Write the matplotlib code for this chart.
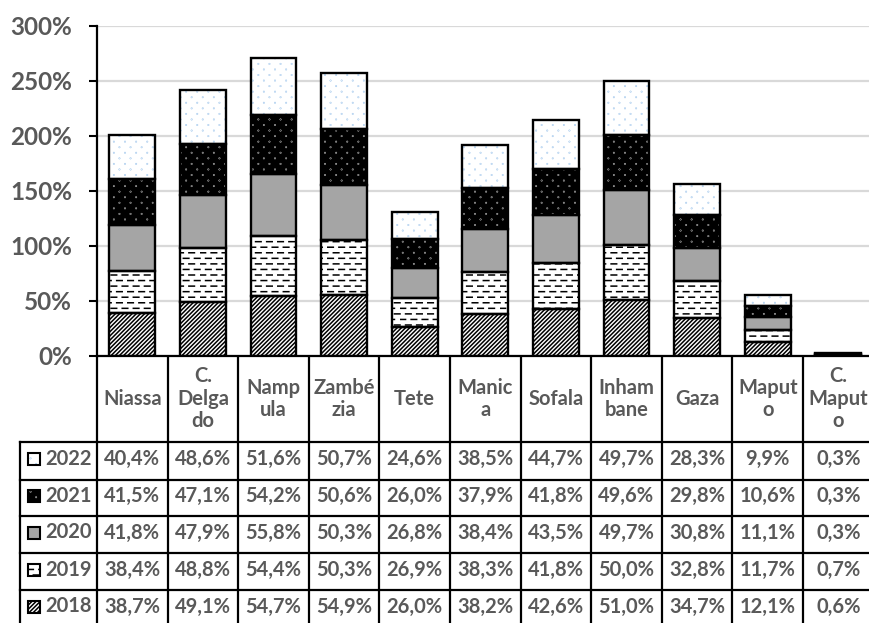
import numpy as np
import matplotlib
matplotlib.use("Agg")
import matplotlib.pyplot as plt
import matplotlib.hatch as mhatch
from matplotlib.path import Path
from matplotlib.patches import Rectangle

# ---- data -------------------------------------------------------------
provinces = ["Niassa", "C.\nDelga\ndo", "Namp\nula", "Zambé\nzia", "Tete",
             "Manic\na", "Sofala", "Inham\nbane", "Gaza", "Maput\no",
             "C.\nMaput\no"]
years = ["2018", "2019", "2020", "2021", "2022"]
v2018 = [38.7, 49.1, 54.7, 54.9, 26.0, 38.2, 42.6, 51.0, 34.7, 12.1, 0.6]
v2019 = [38.4, 48.8, 54.4, 50.3, 26.9, 38.3, 41.8, 50.0, 32.8, 11.7, 0.7]
v2020 = [41.8, 47.9, 55.8, 50.3, 26.8, 38.4, 43.5, 49.7, 30.8, 11.1, 0.3]
v2021 = [41.5, 47.1, 54.2, 50.6, 26.0, 37.9, 41.8, 49.6, 29.8, 10.6, 0.3]
v2022 = [40.4, 48.6, 51.6, 50.7, 24.6, 38.5, 44.7, 49.7, 28.3, 9.9, 0.3]
series = dict(zip(years, [v2018, v2019, v2020, v2021, v2022]))
yticks = [0, 50, 100, 150, 200, 250, 300]


# ---- custom hatches ---------------------------------------------------
class DashedRows(mhatch.HatchPatternBase):
    """'-' : staggered rows of short horizontal dashes."""
    dashes_per_row = 9
    dash_frac = 0.5

    def __init__(self, hatch, density):
        self.num_rows = (hatch.count('-') + hatch.count('+')) * density
        self.num_vertices = self.num_rows * (self.dashes_per_row + 1) * 2

    def set_vertices_and_codes(self, vertices, codes):
        n = self.dashes_per_row
        period = 1.0 / n
        i = 0
        for r in range(self.num_rows):
            y = (r + 0.5) / self.num_rows
            off = 0.5 * period if r % 2 else 0.0
            for k in range(-1, n):
                x0 = k * period + off
                vertices[i] = (x0, y)
                vertices[i + 1] = (x0 + self.dash_frac * period, y)
                codes[i] = Path.MOVETO
                codes[i + 1] = Path.LINETO
                i += 2


class DotGrid(mhatch.HatchPatternBase):
    """'o' : small dots on a staggered grid, wider than tall."""
    radius = 0.0018

    def __init__(self, hatch, density):
        self.num_rows = hatch.count('o') * density
        self.num_cols = self.num_rows // 2
        circ = Path.unit_circle()
        self.shape_vertices = circ.vertices
        self.shape_codes = circ.codes
        self.num_vertices = (self.num_rows * self.num_cols
                             * len(self.shape_vertices))

    def set_vertices_and_codes(self, vertices, codes):
        nv = len(self.shape_vertices)
        i = 0
        for r in range(self.num_rows):
            y = (r + 0.5) / self.num_rows
            off = 0.5 if r % 2 else 0.0
            for c in range(self.num_cols):
                xc = (c + 0.25 + off) / self.num_cols
                vertices[i:i + nv] = self.shape_vertices * self.radius + (xc, y)
                codes[i:i + nv] = self.shape_codes
                i += nv


swap = {mhatch.HorizontalHatch: DashedRows, mhatch.SmallCircles: DotGrid}
mhatch._hatch_types = [swap.get(t, t) for t in mhatch._hatch_types]

plt.rcParams['font.family'] = ['Lato', 'DejaVu Sans']
plt.rcParams['hatch.linewidth'] = 1.1

GREY_TXT = "#595959"
styles = {
    "2018": dict(face="white", hatch="////////", hcolor="black"),
    "2019": dict(face="white", hatch="---", hcolor="black"),
    "2020": dict(face="#a5a5a5", hatch=None, hcolor="#a5a5a5"),
    "2021": dict(face="black", hatch="ooo", hcolor="white"),
    "2022": dict(face="white", hatch="ooo", hcolor="#7fb2e5"),
}

W, H = 869, 623
fig = plt.figure(figsize=(W / 100, H / 100), dpi=100)

col_w = 70.6
x0_px, top_px, zero_px = 97, 25.7, 355.7
ax = fig.add_axes([x0_px / W, (H - zero_px) / H,
                   11 * col_w / W, (zero_px - top_px) / H])

x = np.arange(len(provinces))
bw = 0.65
bottom = np.zeros(len(provinces))
for yr in years:
    st = styles[yr]
    vals = np.array(series[yr])
    ax.bar(x, vals, bw, bottom=bottom, color=st["face"], edgecolor=st["hcolor"],
           hatch=st["hatch"], linewidth=0, zorder=2)
    ax.bar(x, vals, bw, bottom=bottom, fill=False, edgecolor="black",
           linewidth=1.7, zorder=3)
    bottom += vals

ax.set_xlim(-0.5, len(provinces) - 0.5)
ax.set_ylim(0, 300)
ax.set_yticks(yticks)
ax.set_yticklabels([f"{t}%" for t in yticks])
ax.set_xticks([])
ax.tick_params(axis='y', direction='out', length=6, width=1.5, pad=12,
               labelsize=17.5, labelcolor=GREY_TXT, color="black")
for lab in ax.get_yticklabels():
    lab.set_fontweight("bold")
ax.yaxis.grid(True, color="#d9d9d9", linewidth=1.6)
ax.set_axisbelow(True)
for s in ("top", "right"):
    ax.spines[s].set_visible(False)
ax.spines["left"].set_linewidth(1.6)
ax.spines["bottom"].set_linewidth(1.6)

# ---- data table below the axis (pixel coordinates) ------------------
tab = fig.add_axes([0, 0, 1, 1], zorder=-1)
tab.set_xlim(0, W)
tab.set_ylim(H, 0)
tab.axis("off")

bounds = [ax.transData.transform((b, 0))[0] for b in np.arange(-0.5, len(provinces))]
centers = [ax.transData.transform((i, 0))[0] for i in x]

row_lines = [442, 479.5, 516, 553, 590, 627]
lw_tab = 1.6
for bx in bounds:
    tab.plot([bx, bx], [zero_px, H + 5], color="black", lw=lw_tab,
             solid_capstyle="butt")
tab.plot([20, 20], [row_lines[0], H + 5], color="black", lw=lw_tab)
for ry in row_lines:
    tab.plot([20, W + 5], [ry, ry], color="black", lw=lw_tab)

FS = 14.5
for cx, name in zip(centers, provinces):
    tab.text(cx, (zero_px + row_lines[0]) / 2, name, ha="center", va="center",
             fontsize=FS, fontweight="bold", color=GREY_TXT, linespacing=1.15)

for r, yr in enumerate(years[::-1]):
    yc = (row_lines[r] + row_lines[r + 1]) / 2 - 2
    st = styles[yr]
    tab.add_patch(Rectangle((28, yc - 6), 12, 12, facecolor=st["face"],
                            edgecolor=st["hcolor"], hatch=st["hatch"], lw=0))
    tab.add_patch(Rectangle((28, yc - 6), 12, 12, fill=False,
                            edgecolor="black", lw=1.5))
    tab.text(45, yc, yr, ha="left", va="center", fontsize=FS,
             fontweight="bold", color=GREY_TXT)
    for cx, v in zip(centers, series[yr]):
        tab.text(cx, yc, f"{v:.1f}%".replace(".", ","), ha="center",
                 va="center", fontsize=FS, fontweight="bold", color=GREY_TXT)

fig.savefig("out.png", dpi=100)
